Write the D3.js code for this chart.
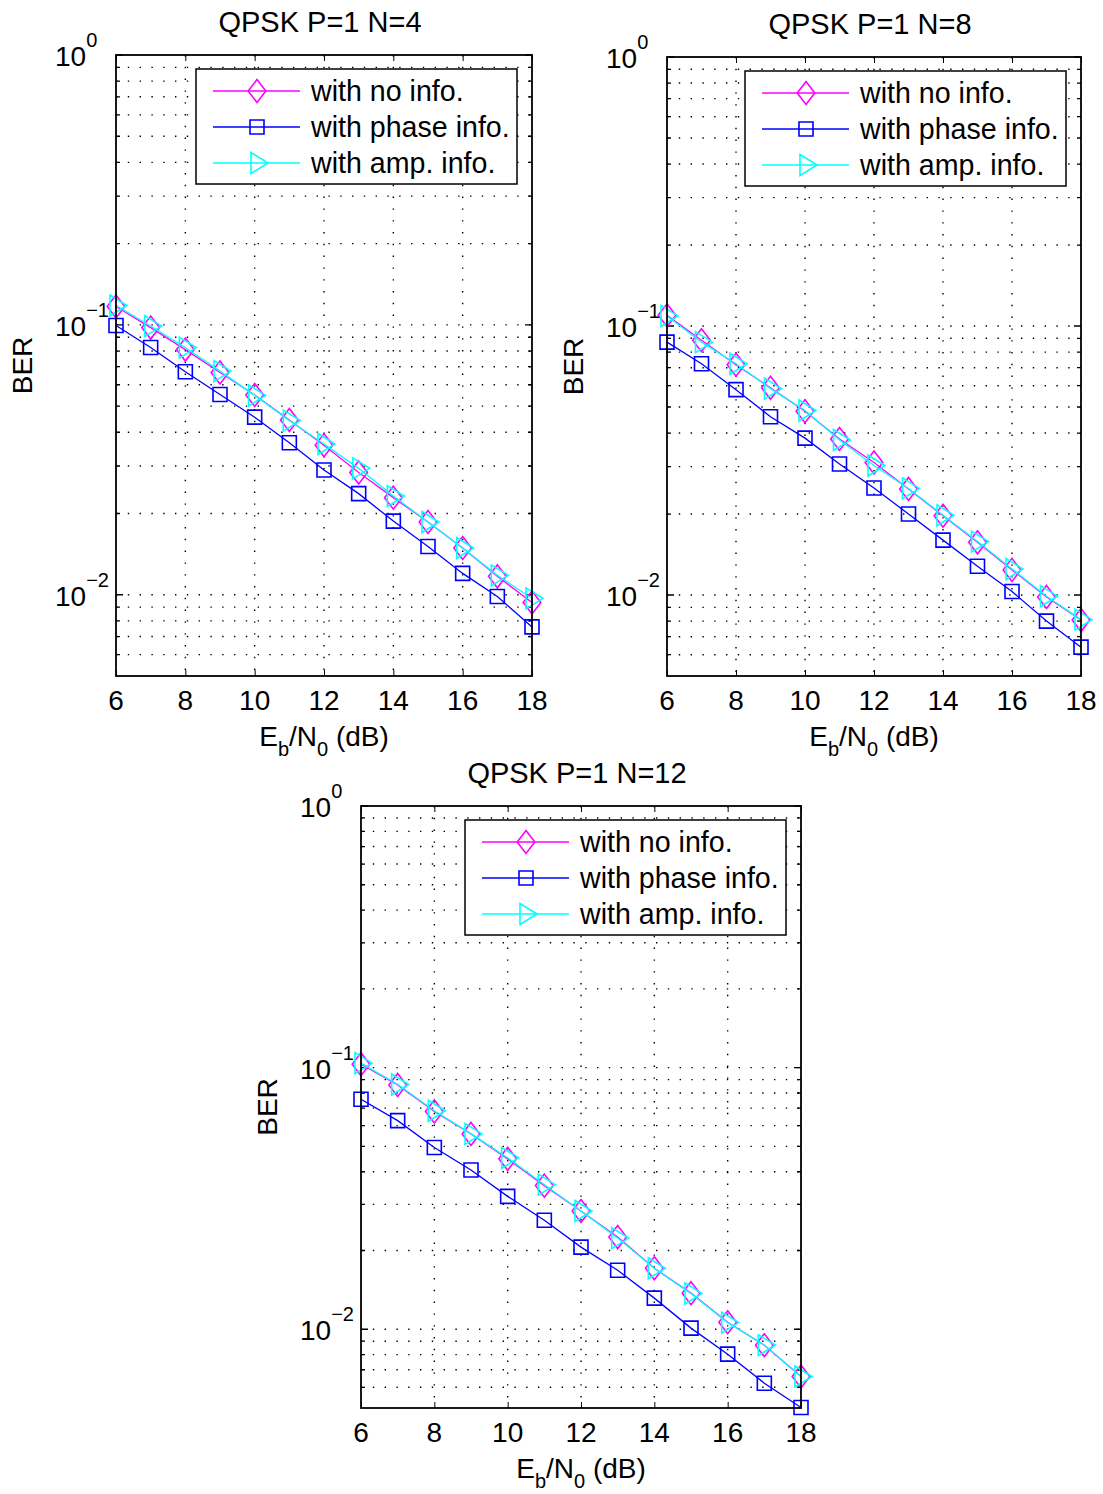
<!DOCTYPE html>
<html>
<head>
<meta charset="utf-8">
<script src="https://cdn.jsdelivr.net/npm/d3@7"></script>
<style>
  body { margin: 0; background: #fff; }
  svg text { font-family: "Liberation Sans", Arial, Helvetica, sans-serif; fill: #000; }
</style>
</head>
<body>
<div id="viz"></div>
<script>
/***************** Data *********************/
var snr = [6, 7, 8, 9, 10, 11, 12, 13, 14, 15, 16, 17, 18];
var xTicks = [6, 8, 10, 12, 14, 16, 18];
var yMajor = [1e-2, 1e-1, 1];
var yExp = ["\u22122", "\u22121", "0"];
var seriesNames = ["with no info.", "with phase info.", "with amp. info."];
var titles = ["QPSK P=1 N=4", "QPSK P=1 N=8", "QPSK P=1 N=12"];

var noInfo4 = [0.117, 0.0977, 0.081, 0.0666, 0.055, 0.0444, 0.0358, 0.0284, 0.0229, 0.0186, 0.0149, 0.0117, 0.00936];
var phase4  = [0.0995, 0.0824, 0.067, 0.0552, 0.0455, 0.0366, 0.029, 0.0237, 0.01875, 0.0151, 0.012, 0.00985, 0.0076];
var amp4    = [0.118, 0.099, 0.0824, 0.0674, 0.0548, 0.0442, 0.0362, 0.0294, 0.0232, 0.0186, 0.0149, 0.0118, 0.0097];

var noInfo8 = [0.1096, 0.0885, 0.0718, 0.0589, 0.0482, 0.038, 0.0311, 0.0248, 0.0197, 0.0157, 0.0124, 0.00984, 0.00807];
var phase8  = [0.0871, 0.0724, 0.058, 0.046, 0.0383, 0.0307, 0.025, 0.02, 0.016, 0.0128, 0.0103, 0.008, 0.0064];
var amp8    = [0.109, 0.0871, 0.0724, 0.0585, 0.0485, 0.0377, 0.0303, 0.0249, 0.0198, 0.0158, 0.0125, 0.0099, 0.0081];

var noInfo12 = [0.103, 0.0859, 0.068, 0.0558, 0.0448, 0.0354, 0.0283, 0.0225, 0.0171, 0.01374, 0.01064, 0.00869, 0.0066];
var phase12  = [0.0757, 0.0627, 0.0495, 0.0406, 0.0322, 0.0261, 0.0206, 0.0168, 0.01315, 0.0101, 0.00803, 0.00622, 0.00502];
var amp12    = [0.104, 0.0862, 0.0684, 0.0558, 0.0452, 0.0357, 0.0283, 0.0223, 0.0171, 0.0137, 0.0106, 0.0087, 0.0066];

/***************** Style *********************/
var colors = ["#ff00ff", "#0000ff", "#00ffff"],
    shapes = ["diamond", "square", "triangle"],
    tickFont = 28,
    supFont = 20,
    w = 1103,
    h = 1494;

var panels = [
  {left: 116, right: 532, top: 55, bottom: 676, series: [noInfo4, phase4, amp4], title: titles[0]},
  {left: 667, right: 1081, top: 57, bottom: 676, series: [noInfo8, phase8, amp8], title: titles[1]},
  {left: 361, right: 801, top: 806, bottom: 1408, series: [noInfo12, phase12, amp12], title: titles[2]}
];

var markerPath = function(shape, cx, cy) {
  if (shape === "diamond") {
    return "M" + cx + "," + (cy - 11.5) + "L" + (cx + 8.8) + "," + cy +
           "L" + cx + "," + (cy + 11.5) + "L" + (cx - 8.8) + "," + cy + "Z";
  } else if (shape === "square") {
    return "M" + (cx - 7) + "," + (cy - 7) + "h14v14h-14Z";
  }
  return "M" + (cx - 6) + "," + (cy - 10.5) + "L" + (cx + 11) + "," + cy +
         "L" + (cx - 6) + "," + (cy + 10.5) + "Z";
}

var svg = d3.select("#viz")
        .append("svg")
        .attr("width", w)
        .attr("height", h);

/***************** Build Panels *********************/
panels.forEach(function(p) {
  var x = d3.scaleLinear().domain([6, 18]).range([p.left, p.right]);
  var y = d3.scaleLog().domain([0.005, 1]).range([p.bottom, p.top]);

  var yAll = y.ticks().filter(function(v) { return v > 0.005 && v < 1; });
  var isMajor = function(v) { return yMajor.some(function(m) { return Math.abs(v / m - 1) < 1e-6; }); };

  var g = svg.append("g");

  /* dotted grid */
  g.selectAll(".vgrid").data(xTicks.slice(1, -1)).enter()
    .append("line")
    .attr("x1", function(d) { return x(d); })
    .attr("x2", function(d) { return x(d); })
    .attr("y1", p.top)
    .attr("y2", p.bottom)
    .attr("stroke", "#000")
    .attr("stroke-width", 1.4)
    .attr("stroke-dasharray", "1.4,10.4");

  g.selectAll(".hgrid").data(yAll).enter()
    .append("line")
    .attr("x1", p.left)
    .attr("x2", p.right)
    .attr("y1", function(d) { return y(d); })
    .attr("y2", function(d) { return y(d); })
    .attr("stroke", "#000")
    .attr("stroke-width", 1.4)
    .attr("stroke-dasharray", "1.4,10.4");

  /* ticks, both sides, pointing in */
  g.append("g")
    .attr("transform", "translate(0," + p.bottom + ")")
    .call(d3.axisBottom(x).tickValues(xTicks).tickSize(-6).tickFormat(""))
    .call(function(a) { a.select(".domain").remove(); });
  g.append("g")
    .attr("transform", "translate(0," + p.top + ")")
    .call(d3.axisTop(x).tickValues(xTicks).tickSize(-6).tickFormat(""))
    .call(function(a) { a.select(".domain").remove(); });

  g.selectAll(".ytick").data(yAll.concat([1])).enter()
    .append("path")
    .attr("d", function(d) {
      var len = isMajor(d) ? 7 : 4;
      return "M" + p.left + "," + y(d) + "h" + len +
             "M" + p.right + "," + y(d) + "h" + (-len);
    })
    .attr("stroke", "#000")
    .attr("stroke-width", 1.3);

  /* series lines and markers */
  p.series.forEach(function(vals, i) {
    var line = d3.line()
        .x(function(d, j) { return x(snr[j]); })
        .y(function(d) { return y(d); });
    g.append("path")
      .datum(vals)
      .attr("d", line)
      .attr("fill", "none")
      .attr("stroke", colors[i])
      .attr("stroke-width", 1.3);
    g.selectAll(".m" + i).data(vals).enter()
      .append("path")
      .attr("d", function(d, j) { return markerPath(shapes[i], x(snr[j]), y(d)); })
      .attr("fill", "none")
      .attr("stroke", colors[i])
      .attr("stroke-width", 1.6);
  });

  /* axes box */
  g.append("rect")
    .attr("x", p.left)
    .attr("y", p.top)
    .attr("width", p.right - p.left)
    .attr("height", p.bottom - p.top)
    .attr("fill", "none")
    .attr("stroke", "#000")
    .attr("stroke-width", 1.8);

  /* x tick labels */
  g.selectAll(".xlab").data(xTicks).enter()
    .append("text")
    .attr("x", function(d) { return x(d); })
    .attr("y", p.bottom + 34)
    .attr("text-anchor", "middle")
    .style("font-size", tickFont + "px")
    .text(function(d) { return d; });

  /* y tick labels 10^k */
  yMajor.forEach(function(v, i) {
    var t = g.append("text")
      .attr("x", p.left - 61)
      .attr("y", y(v) + 11)
      .style("font-size", tickFont + "px");
    t.append("tspan").text("10");
    t.append("tspan")
      .attr("dy", -19)
      .style("font-size", supFont + "px")
      .text(yExp[i]);
  });

  /* axis titles */
  var xl = g.append("text")
    .attr("x", (p.left + p.right) / 2)
    .attr("y", p.bottom + 70)
    .attr("text-anchor", "middle")
    .style("font-size", tickFont + "px");
  xl.append("tspan").text("E");
  xl.append("tspan").attr("dy", 10).style("font-size", supFont + "px").text("b");
  xl.append("tspan").attr("dy", -10).text("/N");
  xl.append("tspan").attr("dy", 10).style("font-size", supFont + "px").text("0");
  xl.append("tspan").attr("dy", -10).text(" (dB)");

  g.append("text")
    .attr("transform", "translate(" + (p.left - 84) + "," + ((p.top + p.bottom) / 2) + ") rotate(-90)")
    .attr("text-anchor", "middle")
    .style("font-size", tickFont + "px")
    .text("BER");

  g.append("text")
    .attr("x", (p.left + p.right) / 2 - 4)
    .attr("y", p.top - 23)
    .attr("text-anchor", "middle")
    .style("font-size", "29px")
    .text(p.title);

  /* legend */
  var lx = p.right - 15 - 321, ly = p.top + 14;
  var leg = g.append("g").attr("transform", "translate(" + lx + "," + ly + ")");
  leg.append("rect")
    .attr("width", 321)
    .attr("height", 115)
    .attr("fill", "#fff")
    .attr("stroke", "#000")
    .attr("stroke-width", 1.5);
  seriesNames.forEach(function(name, i) {
    var cy = 22 + i * 36;
    leg.append("line")
      .attr("x1", 17).attr("x2", 104)
      .attr("y1", cy).attr("y2", cy)
      .attr("stroke", colors[i])
      .attr("stroke-width", 1.3);
    leg.append("path")
      .attr("d", markerPath(shapes[i], 61, cy))
      .attr("fill", "none")
      .attr("stroke", colors[i])
      .attr("stroke-width", 1.6);
    leg.append("text")
      .attr("x", 115)
      .attr("y", cy + 10)
      .style("font-size", "28.6px")
      .text(name);
  });
});
</script>
</body>
</html>
